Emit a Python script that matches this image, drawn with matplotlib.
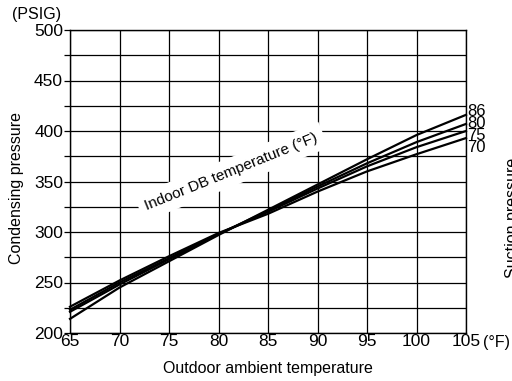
import matplotlib
matplotlib.use("Agg")
import matplotlib.pyplot as plt
import numpy as np

plt.rcParams['font.family'] = ['Liberation Sans', 'DejaVu Sans']

outdoor = [65, 70, 75, 80, 85, 90, 95, 100, 105]
indoor_labels = ["86", "80", "75", "70"]
pressure = {
    "86": [214, 245, 271, 297, 322, 347, 372, 396, 416],
    "80": [221, 248, 273, 298, 321, 345, 368, 389, 407],
    "75": [223, 250, 274, 298, 320, 343, 365, 384, 400],
    "70": [226, 252, 276, 299, 318, 340, 360, 377, 393],
}
x_ticks = [65, 70, 75, 80, 85, 90, 95, 100, 105]
y_ticks = [200, 250, 300, 350, 400, 450, 500]

fig = plt.figure(figsize=(5.12, 3.81), dpi=100)
ax = fig.add_axes([70/512, 1-333/381, (466-70)/512, (333-30)/381])
ax.set_xlim(65, 105)
ax.set_ylim(200, 500)

ax.set_xticks(x_ticks)
ax.set_yticks(y_ticks)
ax.set_yticks(np.arange(200, 501, 25), minor=True)
ax.grid(True, which='both', color='black', linewidth=0.9)
ax.set_axisbelow(True)
ax.tick_params(axis='x', length=0, pad=1, labelsize=12.5)
ax.tick_params(axis='y', which='both', length=4, width=0.9, pad=1, labelsize=12.5)
for s in ax.spines.values():
    s.set_linewidth(1.0)

for lab in indoor_labels:
    ax.plot(outdoor, pressure[lab], color='black', linewidth=1.6, zorder=3, clip_on=False)

label_y = {"86": 112, "80": 123, "75": 136, "70": 147}
for lab in indoor_labels:
    fig.text(467/512, 1 - label_y[lab]/381, lab, fontsize=12, va='center', ha='left')

ax.text(81.3, 359.5, "Indoor DB temperature (°F)", rotation=22, fontsize=11,
        ha='center', va='center', zorder=4,
        bbox=dict(facecolor='white', edgecolor='none', pad=5))

ax.set_xlabel("Outdoor ambient temperature", fontsize=11.5)
ax.xaxis.set_label_coords(268/512, 1 - 368/381, transform=fig.transFigure)
ax.xaxis.label.set_va('center')
ax.set_ylabel("Condensing pressure", fontsize=11.5)
ax.yaxis.set_label_coords(17/512, 1 - 188/381, transform=fig.transFigure)
ax.yaxis.label.set_va('center')

fig.text(12/512, 1 - 14/381, "(PSIG)", fontsize=11.5, va='center', ha='left')
fig.text(483/512, 1 - 343/381, "(°F)", fontsize=11.5, va='center', ha='left')
fig.text(513/512, 1 - 218/381, "Suction pressure", fontsize=11.5, rotation=90,
         va='center', ha='center')

fig.savefig("out.png", dpi=100)
